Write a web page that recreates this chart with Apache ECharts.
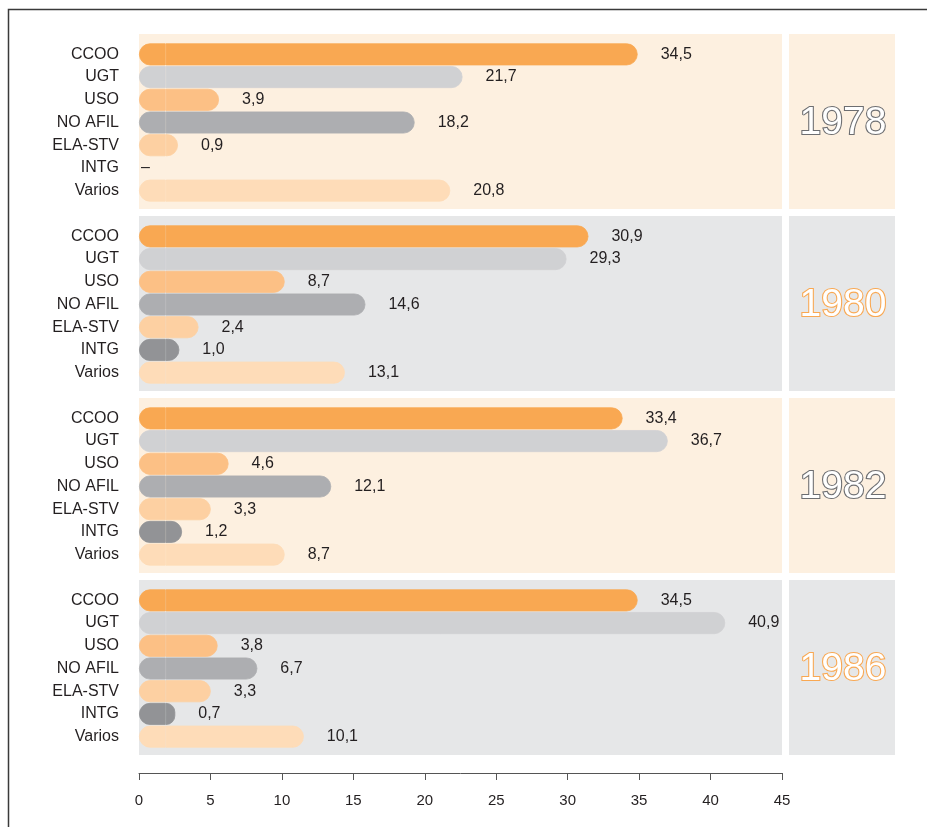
<!DOCTYPE html>
<html>
<head>
<meta charset="utf-8">
<script src="https://cdn.jsdelivr.net/npm/echarts@6/dist/echarts.min.js"></script>
<style>
html, body { margin: 0; padding: 0; background: #fff; }
#chart { width: 927px; height: 827px; }
</style>
</head>
<body>
<div id="chart"></div>
<script>
var categorias = ['CCOO', 'UGT', 'USO', 'NO AFIL', 'ELA-STV', 'INTG', 'Varios'];
var anios = ['1978', '1980', '1982', '1986'];
var v1978 = [34.5, 21.7, 3.9, 18.2, 0.9, null, 20.8];
var v1980 = [30.9, 29.3, 8.7, 14.6, 2.4, 1.0, 13.1];
var v1982 = [33.4, 36.7, 4.6, 12.1, 3.3, 1.2, 8.7];
var v1986 = [34.5, 40.9, 3.8, 6.7, 3.3, 0.7, 10.1];

var valores = [v1978, v1980, v1982, v1986];
var colores = ['#f9a852', '#d0d1d3', '#fcc085', '#adaeb1', '#fdd0a2', '#929396', '#fedcb8'];
var fondos = ['#fdf0e0', '#e6e7e8', '#fdf0e0', '#e6e7e8'];
var trazoAnio = ['#6d6e71', '#f9a852', '#6d6e71', '#f9a852'];
var CAP = 1.95; // tramo redondeado inicial de cada barra (estilo del original)

var fuente = '"Liberation Sans", Arial, sans-serif';
var myChart = echarts.init(document.getElementById('chart'));

var grids = [], xAxes = [], yAxes = [], series = [], graficos = [];

// marco
graficos.push({
    type: 'polyline',
    shape: { points: [[8.5, 827], [8.5, 9.5], [927, 9.5]] },
    style: { stroke: '#3a3a3a', lineWidth: 1.5, fill: null },
    z: 0
});

for (var k = 0; k < 4; k++) {
    var panelTop = 34 + 182 * k;
    graficos.push({
        type: 'rect', shape: { x: 139, y: panelTop, width: 643, height: 175 },
        style: { fill: fondos[k] }, z: -1
    });
    graficos.push({
        type: 'rect', shape: { x: 789, y: panelTop, width: 106, height: 175 },
        style: { fill: fondos[k] }, z: -1
    });
    graficos.push({
        type: 'text', x: 843, y: panelTop + 89,
        style: {
            text: anios[k], fill: '#ffffff', stroke: trazoAnio[k], lineWidth: 2.2,
            font: '39px ' + fuente,
            align: 'center', verticalAlign: 'middle'
        },
        z: 5
    });

    grids.push({ left: 139, right: 145, top: panelTop + 9, height: 159 });
    // eje de las barras (oculto)
    xAxes.push({
        gridIndex: k,
        type: 'value',
        position: 'top',
        min: 0,
        max: 47,
        show: false
    });
    // eje visible 0-45
    xAxes.push({
        gridIndex: k,
        type: 'value',
        position: 'bottom',
        min: 0,
        max: 45,
        interval: 5,
        show: k === 3,
        offset: 25,
        splitLine: { show: false },
        axisLine: { show: true, lineStyle: { color: '#555', width: 1 } },
        axisTick: { show: true, length: 7, lineStyle: { color: '#555' } },
        axisLabel: {
            margin: 20,
            color: '#231f20',
            fontSize: 15,
            fontFamily: fuente
        }
    });
    yAxes.push({
        gridIndex: k,
        type: 'category',
        inverse: true,
        data: categorias,
        axisLine: { show: false },
        axisTick: { show: false },
        axisLabel: {
            margin: 20,
            color: '#231f20',
            fontSize: 16,
            fontFamily: fuente
        }
    });

    var base = valores[k].map(function (v, i) {
        if (v === null) return null;
        return {
            value: CAP,
            itemStyle: { color: colores[i], borderColor: colores[i], borderWidth: 0.8, borderRadius: [11, 0, 0, 11] }
        };
    });
    var datos = valores[k].map(function (v, i) {
        if (v === null) {
            return {
                value: 0,
                itemStyle: { color: colores[i] },
                label: { distance: 2, formatter: '–' }
            };
        }
        return {
            value: v,
            itemStyle: { color: colores[i], borderColor: colores[i], borderWidth: 0.8, borderRadius: [0, 11, 11, 0] }
        };
    });

    series.push({
        type: 'bar',
        name: 'base' + k,
        stack: 's' + k,
        xAxisIndex: 2 * k,
        yAxisIndex: k,
        data: base,
        barWidth: 22,
        silent: true
    });
    series.push({
        type: 'bar',
        name: anios[k],
        stack: 's' + k,
        xAxisIndex: 2 * k,
        yAxisIndex: k,
        data: datos,
        barWidth: 22,
        label: {
            show: true,
            position: 'right',
            distance: 23,
            color: '#231f20',
            fontSize: 16,
            fontFamily: fuente,
            formatter: function (p) {
                return p.value.toFixed(1).replace('.', ',');
            }
        },
        silent: true
    });
}

var option = {
    backgroundColor: '#ffffff',
    animation: false,
    grid: grids,
    xAxis: xAxes,
    yAxis: yAxes,
    series: series,
    graphic: graficos
};
myChart.setOption(option);
</script>
</body>
</html>
